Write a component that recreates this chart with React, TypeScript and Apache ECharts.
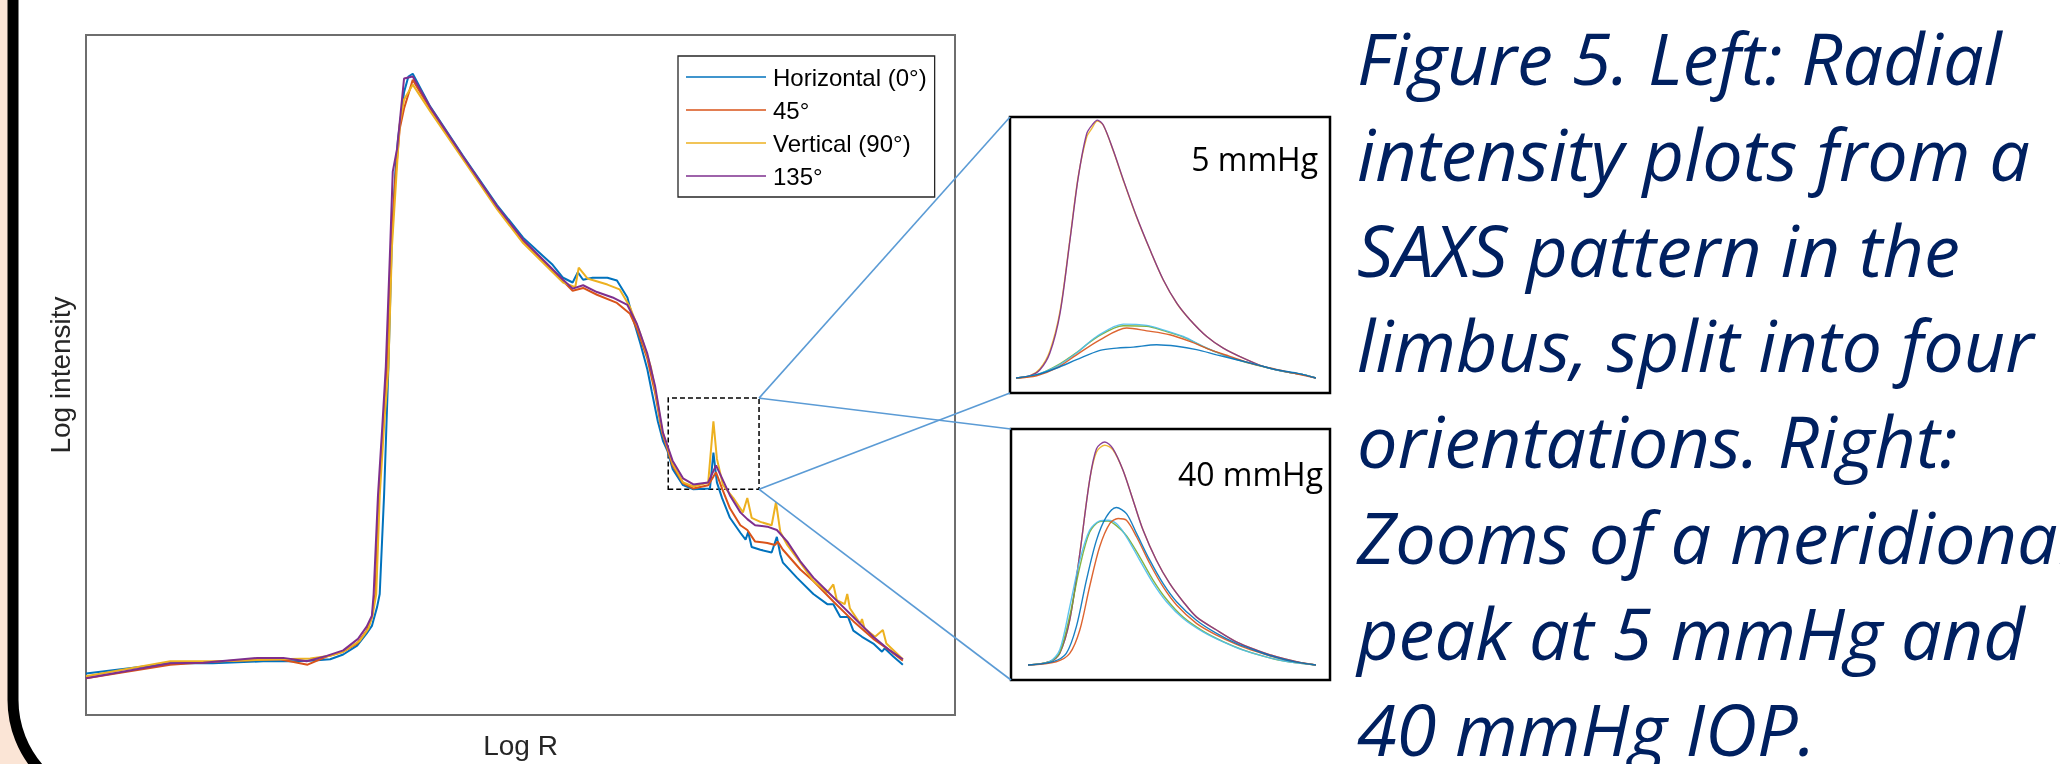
import React, { useEffect, useRef } from "react";
import * as echarts from "echarts";

// ---------- Main plot: radial intensity, four orientations ----------
const SERIES_NAMES = ["Horizontal (0°)", "45°", "Vertical (90°)", "135°"];
const SERIES_COLORS = ["#0072BD", "#D95319", "#EDB120", "#7E2F8E"];
const X_AXIS_NAME = "Log R";
const Y_AXIS_NAME = "Log intensity";

const horizontal0: number[][] = [
  [0, 6.1], [9.7, 7.6], [14.6, 7.6], [20.4, 7.9], [23.8, 7.9], [26.2, 8.0], [28.1, 8.2], [29.6, 8.9],
  [31.2, 10.2], [32.3, 12.0], [32.9, 13.1], [33.5, 15.9], [33.8, 17.8], [34.3, 32.3], [34.8, 51.2],
  [35.2, 70.2], [35.6, 79.9], [35.9, 84.7], [36.6, 91.6], [37.1, 93.9], [37.6, 94.3], [39.6, 89.5],
  [43.4, 82.2], [47.3, 75.0], [50.3, 70.2], [51.9, 68.3], [53.7, 66.2], [54.9, 64.3], [56.0, 63.6],
  [56.6, 65.1], [57.2, 64.0], [58.3, 64.3], [60.0, 64.3], [61.1, 63.9], [62.3, 61.4], [62.9, 58.5],
  [63.8, 54.6], [64.6, 50.8], [65.1, 47.6], [65.8, 43.2], [66.4, 40.3], [66.9, 38.9], [67.5, 36.2],
  [68.7, 33.8], [69.9, 33.2], [71.8, 33.3], [72.2, 38.6], [72.6, 34.2], [73.2, 31.9], [74.1, 29.0],
  [75.3, 26.8], [75.9, 25.8], [76.2, 26.9], [76.6, 24.7], [77.6, 24.3], [78.9, 23.9], [79.5, 26.2],
  [79.9, 23.6], [80.2, 22.4], [81.8, 20.2], [83.7, 17.8], [85.3, 16.3], [86.0, 16.3], [86.8, 14.4],
  [87.7, 14.4], [88.3, 12.4], [89.3, 11.5], [90.6, 10.5], [91.6, 9.3], [91.9, 9.8], [92.9, 8.6], [94.0, 7.4],
];

const deg45: number[][] = [
  [0, 5.4], [9.7, 7.4], [15.4, 7.9], [22.3, 8.2], [25.5, 7.4], [27.7, 8.6], [29.6, 9.3], [31.2, 10.5],
  [32.3, 12.4], [32.9, 14.4], [33.3, 17.8], [33.7, 32.3], [34.2, 42.5], [34.6, 51.2], [35.1, 68.7],
  [35.6, 78.9], [36.1, 86.2], [36.6, 89.2], [37.6, 93.4], [39.6, 89.2], [43.4, 81.9], [47.3, 74.7],
  [50.3, 69.7], [54.9, 63.8], [56.0, 62.4], [57.2, 62.8], [58.8, 61.8], [61.1, 60.6], [62.6, 59.0],
  [63.4, 56.8], [64.6, 52.4], [65.5, 47.3], [66.3, 41.5], [67.5, 36.7], [68.7, 34.1], [69.9, 33.3],
  [71.6, 33.8], [72.5, 35.7], [73.2, 33.3], [74.1, 30.4], [75.3, 27.9], [76.1, 27.2], [77.0, 25.5],
  [78.4, 25.3], [79.3, 25.0], [79.6, 25.5], [80.2, 24.3], [82.2, 21.4], [83.7, 19.7], [86.0, 16.7],
  [88.3, 13.8], [90.6, 11.2], [92.5, 9.5], [94.0, 8.0],
];

const vertical90: number[][] = [
  [0, 5.7], [9.7, 7.9], [15.4, 7.9], [22.3, 8.2], [25.8, 8.3], [28.1, 8.7], [29.6, 9.3], [31.5, 10.9],
  [32.5, 12.7], [33.0, 14.8], [33.4, 17.8], [33.8, 32.3], [34.3, 42.5], [34.8, 51.2], [35.2, 68.7],
  [35.7, 78.9], [36.1, 86.9], [36.6, 90.5], [37.6, 92.7], [39.6, 88.8], [43.4, 81.7], [47.3, 74.4],
  [50.3, 69.4], [54.9, 63.6], [56.3, 62.9], [56.7, 65.8], [57.7, 64.2], [60.0, 63.3], [61.4, 62.6],
  [62.6, 60.0], [63.8, 56.0], [65.0, 51.2], [65.7, 46.4], [66.3, 41.8], [67.5, 37.0], [68.7, 34.2],
  [69.9, 33.6], [71.6, 34.2], [72.2, 43.2], [72.6, 37.7], [73.3, 33.8], [74.5, 31.9], [75.6, 29.8],
  [76.1, 31.9], [76.6, 29.0], [77.6, 28.4], [78.9, 27.9], [79.4, 31.3], [79.9, 26.9], [80.7, 25.0],
  [82.2, 22.4], [83.7, 19.7], [85.3, 18.0], [86.0, 19.2], [86.4, 16.9], [87.3, 16.3], [87.6, 17.8],
  [87.9, 15.7], [89.1, 13.4], [89.3, 14.1], [89.6, 12.7], [90.8, 11.5], [91.7, 12.5], [92.1, 10.5], [94.0, 8.2],
];

const deg135: number[][] = [
  [0, 5.4], [9.7, 7.6], [13.5, 7.7], [19.7, 8.4], [22.7, 8.4], [25.4, 7.9], [27.7, 8.7], [29.6, 9.5],
  [31.3, 11.2], [32.3, 13.0], [32.9, 14.6], [33.1, 17.8], [33.6, 32.3], [34.1, 42.5], [34.5, 51.2],
  [35.0, 68.7], [35.3, 79.9], [35.8, 83.3], [36.6, 93.6], [37.6, 93.9], [39.6, 89.4], [43.4, 82.1],
  [47.3, 74.8], [50.3, 69.9], [54.9, 64.0], [56.0, 62.7], [57.2, 63.2], [58.8, 62.2], [60.6, 61.4],
  [62.3, 60.3], [63.4, 57.5], [64.6, 53.1], [65.5, 48.3], [66.4, 41.5], [67.5, 37.4], [68.7, 34.8],
  [69.9, 33.9], [71.6, 34.2], [72.5, 36.7], [73.2, 34.8], [74.1, 32.3], [75.3, 29.8], [76.1, 28.8],
  [77.0, 27.9], [78.4, 27.7], [79.5, 27.2], [80.7, 25.5], [82.2, 22.6], [83.7, 20.2], [85.3, 18.2],
  [86.8, 16.3], [88.3, 14.4], [90.6, 11.5], [92.5, 9.5], [94.0, 8.2],
];

// zoomed region of the main plot (Log R range, Log intensity range)
const ZOOM_X = [67.0, 77.45];
const ZOOM_Y = [33.2, 46.6];

// ---------- Inset curves (meridional peak) ----------
const INSET_LABELS = ["5 mmHg", "40 mmHg"];
const INSET_COLORS = ["#EDB120", "#7E2F8E", "#77AC30", "#4DBEEE", "#D95319", "#0072BD"];

const p5Yellow: number[][] = [
  [0, 0], [4.7, 0.9], [8, 3.6], [11.3, 10.5], [14.7, 26], [18, 54], [20.8, 78.5], [23.6, 93.5], [25.2, 96.6],
  [27.1, 99.6], [29.1, 98], [32.4, 88.2], [35.8, 76.6], [40.2, 62.4], [44.7, 49.6], [49.1, 38], [53.6, 29],
  [58, 22.6], [63.6, 16.1], [69.1, 11.6], [75.8, 7.7], [82.4, 4.5], [89.1, 2.6], [95.8, 1.3], [100, 0],
];
const p5Purple: number[][] = [
  [0, 0], [4.7, 0.9], [8, 3.2], [11.3, 9.7], [14.7, 25.2], [18, 53.5], [20.8, 78.1], [23.6, 94.8], [25.8, 98.7],
  [27.1, 100], [29.1, 98.1], [32.4, 88.4], [35.8, 76.8], [40.2, 62.6], [44.7, 49.7], [49.1, 38.1], [53.6, 29.0],
  [58, 22.6], [63.6, 16.1], [69.1, 11.6], [75.8, 7.7], [82.4, 4.5], [89.1, 2.6], [95.8, 1.3], [100, 0],
];
const p5Green: number[][] = [
  [0, 0], [6.9, 1.2], [13.6, 4.8], [20.2, 9.9], [26.9, 15.8], [35.8, 20.3], [43.6, 20.1], [49.1, 18.4],
  [55.8, 15.9], [62.4, 12.2], [69.1, 9.0], [75.8, 6.4], [82.4, 4.4], [89.1, 2.6], [95.8, 1.3], [100, 0],
];
const p5Cyan: number[][] = [
  [0, 0], [6.9, 1.3], [13.6, 4.5], [20.2, 9.7], [26.9, 16.1], [35.8, 20.9], [43.6, 20.4], [49.1, 18.7],
  [55.8, 16.1], [62.4, 12.3], [69.1, 9.0], [75.8, 6.5], [82.4, 4.5], [89.1, 2.6], [95.8, 1.3], [100, 0],
];
const p5Red: number[][] = [
  [0, 0], [6.9, 0.9], [13.6, 3.9], [20.2, 9.0], [28, 14.8], [36.9, 19.4], [43.6, 18.3], [51.3, 16.8],
  [58, 14.2], [64.7, 11.0], [71.3, 8.4], [78, 5.8], [84.7, 3.9], [91.3, 2.2], [100, 0],
];
const p5Blue: number[][] = [
  [0, 0], [6.9, 1.3], [13.6, 3.9], [20.2, 7.1], [28, 10.7], [33.6, 11.6], [39.1, 12.0], [46.9, 12.9],
  [53.6, 12.3], [60.2, 11.0], [66.9, 9.0], [73.6, 7.1], [80.2, 5.2], [86.9, 3.2], [93.6, 1.9], [100, 0],
];

const p40Yellow: number[][] = [
  [0, 0], [7.5, 1.5], [11, 5.2], [14.5, 20.1], [18, 50], [21.4, 82.8], [23.8, 95.5], [26.7, 98.5], [29.5, 96.5],
  [33, 87.3], [36.5, 73.9], [40, 60.4], [44.6, 47], [49.2, 36.6], [53.9, 28.4], [58.5, 21.6], [65.5, 15.7],
  [72.4, 10.4], [79.4, 6.7], [86.3, 3.7], [93.3, 1.5], [100, 0],
];
const p40Purple: number[][] = [
  [0, 0], [7.5, 1.5], [11, 5.2], [14.5, 20.1], [18, 50], [21.4, 82.8], [23.8, 97], [26.7, 100], [29.5, 97],
  [33, 87.3], [36.5, 73.9], [40, 60.4], [44.6, 47], [49.2, 36.6], [53.9, 28.4], [58.5, 21.6], [65.5, 15.7],
  [72.4, 10.4], [79.4, 6.7], [86.3, 3.7], [93.3, 1.5], [100, 0],
];
const p40Green: number[][] = [
  [0, 0], [7.5, 1.5], [11, 5.5], [14.5, 22], [18, 44], [21.4, 59.5], [24.9, 64.3], [27.8, 64.5], [30.7, 62.5],
  [34.2, 58], [38.8, 48.5], [43.5, 38], [48.1, 29.5], [53.9, 21.5], [60.8, 15.2], [67.8, 10.5], [74.7, 6.8],
  [81.7, 4.0], [88.6, 1.9], [100, 0],
];
const p40Cyan: number[][] = [
  [0, 0], [7.5, 1.5], [11, 6.7], [14.5, 26.1], [18, 47.0], [21.4, 60.4], [24.9, 64.6], [27.8, 64.9], [30.7, 63.4],
  [34.2, 57.5], [38.8, 47.0], [43.5, 36.6], [48.1, 28.4], [53.9, 20.9], [60.8, 14.9], [67.8, 10.4], [74.7, 6.7],
  [81.7, 4.0], [88.6, 1.9], [100, 0],
];
const p40Red: number[][] = [
  [0, 0], [9.8, 1.5], [14.5, 5.2], [18, 15.7], [21.4, 35.1], [24.9, 53.0], [28.4, 63.4], [31.3, 65.7], [34.2, 64.9],
  [37.7, 57.5], [42.3, 45.5], [46.9, 35.1], [51.6, 26.9], [58.5, 18.7], [65.5, 13.4], [72.4, 9.3], [79.4, 6.0],
  [86.3, 3.3], [93.3, 1.3], [100, 0],
];
const p40Blue: number[][] = [
  [0, 0], [8.7, 1.5], [13.3, 5.2], [16.8, 17.2], [20.3, 38.1], [23.8, 56.0], [27.2, 66.4], [30.7, 70.6], [34.2, 67.9],
  [37.7, 59.0], [42.3, 47.0], [46.9, 36.6], [51.6, 28.4], [58.5, 20.1], [65.5, 14.2], [72.4, 9.7], [79.4, 6.3],
  [86.3, 3.4], [93.3, 1.3], [100, 0],
];

const INSET5 = [p5Yellow, p5Purple, p5Green, p5Cyan, p5Red, p5Blue];
const INSET40 = [p40Yellow, p40Purple, p40Green, p40Cyan, p40Red, p40Blue];

// ---------- Caption ----------
const CAPTION_LINES = [
  "Figure 5. Left: Radial",
  "intensity plots from a",
  "SAXS pattern in the",
  "limbus, split into four",
  "orientations. Right:",
  "Zooms of a meridional",
  "peak at 5 mmHg and",
  "40 mmHg IOP.",
];

// ---------- layout ----------
const W = 2060;
const H = 764;
const MAIN = { left: 86, top: 35, width: 869, height: 687 };
const IN1 = { left: 1010, top: 117, width: 320, height: 276 };
const IN2 = { left: 1011, top: 429, width: 319, height: 251 };
const ARIAL = "Liberation Sans, Arial, sans-serif";
const CAP_FONT = "italic 72px 'Open Sans', 'Noto Sans', sans-serif";

function hiddenAxis(gridIndex: number, min: number, max: number) {
  return { gridIndex, type: "value", min, max, show: false, splitLine: { show: false } };
}

function buildGraphic(extra: any[]) {
  const els: any[] = [
    { id: "bg", type: "rect", z: -20, silent: true, shape: { x: 0, y: 0, width: W, height: H }, style: { fill: "#FBE5D6" } },
    {
      id: "frame", type: "rect", z: -19, silent: true,
      shape: { x: 13, y: -200, width: 3000, height: 1004, r: 104 },
      style: { fill: "#ffffff", stroke: "#000000", lineWidth: 11 },
    },
    {
      id: "lab5", type: "text", z: 10, silent: true,
      style: { text: INSET_LABELS[0], x: 1318, y: 174, align: "right", verticalAlign: "bottom", font: "32px 'Open Sans', sans-serif", fill: "#000" },
    },
    {
      id: "lab40", type: "text", z: 10, silent: true,
      style: { text: INSET_LABELS[1], x: 1323, y: 489, align: "right", verticalAlign: "bottom", font: "32px 'Open Sans', sans-serif", fill: "#000" },
    },
  ];
  CAPTION_LINES.forEach((t, i) => {
    els.push({
      id: "cap" + i, type: "text", z: 10, silent: true,
      style: { text: t, x: 1357, y: 78 + i * 95.8 - 21, align: "left", verticalAlign: "middle", font: CAP_FONT, fill: "#002060" },
    });
  });
  return els.concat(extra);
}

export default function App() {
  const ref = useRef<HTMLDivElement>(null);
  useEffect(() => {
    if (!ref.current) return;
    const chart = echarts.init(ref.current, null, { renderer: "svg", width: W, height: H });

    const mainSeries = [horizontal0, deg45, vertical90, deg135].map((d, i) => ({
      name: SERIES_NAMES[i],
      type: "line",
      xAxisIndex: 0,
      yAxisIndex: 0,
      data: d,
      symbol: "none",
      lineStyle: { width: 2, color: SERIES_COLORS[i] },
      itemStyle: { color: SERIES_COLORS[i] },
      z: 3,
      ...(i === 3
        ? {
            markArea: {
              silent: true,
              itemStyle: { color: "rgba(0,0,0,0)", borderColor: "#000", borderWidth: 1.5, borderType: [5, 3] },
              data: [[{ coord: [ZOOM_X[0], ZOOM_Y[0]] }, { coord: [ZOOM_X[1], ZOOM_Y[1]] }]],
            },
          }
        : {}),
    }));

    const insetSeries = (sets: number[][][], axisIndex: number, tag: string) =>
      sets.map((d, i) => ({
        name: tag + " " + i,
        type: "line",
        xAxisIndex: axisIndex,
        yAxisIndex: axisIndex,
        data: d,
        symbol: "none",
        smooth: 0.3,
        lineStyle: { width: 1.4, color: INSET_COLORS[i], opacity: 0.9 },
        z: 3,
      }));

    const option: any = {
      animation: false,
      backgroundColor: "transparent",
      grid: [
        { ...MAIN, show: true, borderColor: "#6e6e6e", borderWidth: 2, backgroundColor: "#fff", containLabel: false },
        { ...IN1, show: true, borderColor: "#000", borderWidth: 2.5, backgroundColor: "#fff" },
        { ...IN2, show: true, borderColor: "#000", borderWidth: 2.5, backgroundColor: "#fff" },
      ],
      xAxis: [
        {
          gridIndex: 0, type: "value", min: 0, max: 100,
          name: X_AXIS_NAME, nameLocation: "middle", nameGap: 16,
          nameTextStyle: { fontSize: 28, color: "#262626", fontFamily: ARIAL },
          axisLine: { show: false }, axisTick: { show: false }, axisLabel: { show: false }, splitLine: { show: false },
        },
        hiddenAxis(1, -2, 104.7),
        hiddenAxis(2, -5.9, 104.9),
      ],
      yAxis: [
        {
          gridIndex: 0, type: "value", min: 0, max: 100,
          name: Y_AXIS_NAME, nameLocation: "middle", nameGap: 12, nameRotate: 90,
          nameTextStyle: { fontSize: 28, color: "#262626", fontFamily: ARIAL },
          axisLine: { show: false }, axisTick: { show: false }, axisLabel: { show: false }, splitLine: { show: false },
        },
        hiddenAxis(1, -5.8, 101.2),
        hiddenAxis(2, -6.7, 105.8),
      ],
      legend: {
        data: SERIES_NAMES,
        orient: "vertical",
        left: 678,
        top: 56,
        padding: [9, 8, 9, 8],
        itemWidth: 80,
        itemHeight: 1.5,
        itemGap: 9,
        icon: "rect",
        backgroundColor: "#fff",
        borderColor: "#262626",
        borderWidth: 1.3,
        selectedMode: false,
        textStyle: { fontFamily: ARIAL, fontSize: 24, color: "#000", lineHeight: 24, padding: [0, 0, 0, 2] },
      },
      series: [...mainSeries, ...insetSeries(INSET5, 1, "5 mmHg"), ...insetSeries(INSET40, 2, "40 mmHg")],
      graphic: { elements: buildGraphic([]) },
    };
    chart.setOption(option);

    const tr = chart.convertToPixel({ gridIndex: 0 }, [ZOOM_X[1], ZOOM_Y[1]]) as number[];
    const br = chart.convertToPixel({ gridIndex: 0 }, [ZOOM_X[1], ZOOM_Y[0]]) as number[];
    const lineStyle = { stroke: "#5B9BD5", lineWidth: 1.6 };
    const conn = (id: string, a: number[], b: number[]) => ({
      id, type: "line", z: 5, silent: true, shape: { x1: a[0], y1: a[1], x2: b[0], y2: b[1] }, style: lineStyle,
    });
    const connectors = [
      conn("c1", tr, [IN1.left, IN1.top]),
      conn("c2", tr, [IN2.left, IN2.top]),
      conn("c3", br, [IN1.left, IN1.top + IN1.height]),
      conn("c4", br, [IN2.left, IN2.top + IN2.height]),
    ];
    chart.setOption({ graphic: { elements: buildGraphic(connectors) } });

    return () => chart.dispose();
  }, []);
  return <div ref={ref} style={{ position: "fixed", left: 0, top: 0, width: W, height: H }} />;
}
